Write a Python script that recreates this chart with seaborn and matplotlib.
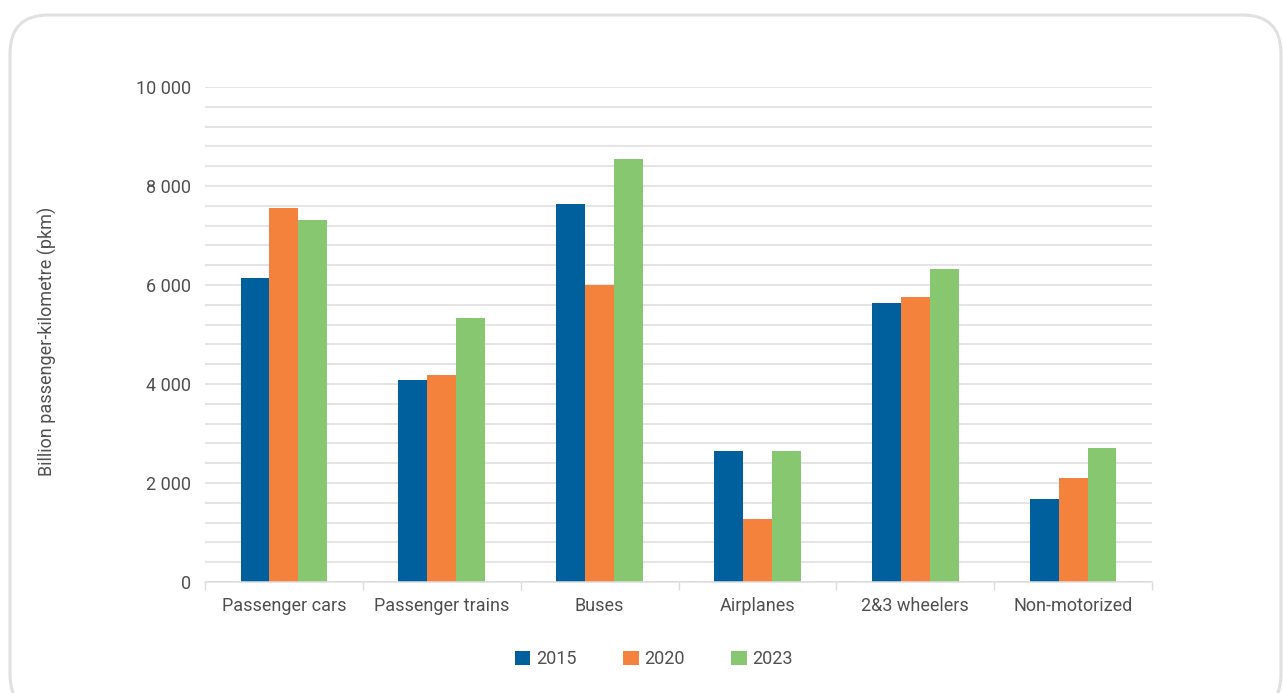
import numpy as np
import pandas as pd
import matplotlib
matplotlib.use("Agg")
import matplotlib.pyplot as plt
import seaborn as sns
from matplotlib.patches import FancyBboxPatch
from matplotlib.ticker import FuncFormatter, MultipleLocator, FixedLocator

categories = ["Passenger cars", "Passenger trains", "Buses", "Airplanes",
              "2&3 wheelers", "Non-motorized"]
years = ["2015", "2020", "2023"]
values_2015 = [6140, 4080, 7640, 2650, 5640, 1680]
values_2020 = [7550, 4180, 6000, 1270, 5760, 2100]
values_2023 = [7310, 5330, 8540, 2650, 6320, 2710]
colors = ["#00609E", "#F4823C", "#87C76F"]

df = pd.DataFrame({
    "category": categories * 3,
    "year": [y for y in years for _ in categories],
    "pkm": values_2015 + values_2020 + values_2023,
})

sns.set_theme(style="white")
plt.rcParams["font.family"] = ["Roboto", "DejaVu Sans"]
text_color = "#505050"
grid_color = "#dcdcdc"

fig = plt.figure(figsize=(12.83, 6.93), dpi=100)
ax = fig.add_axes([0.1598, 0.1602, 0.8979 - 0.1598, 0.8745 - 0.1602])

sns.barplot(data=df, x="category", y="pkm", hue="year", order=categories,
            hue_order=years, palette=colors, width=0.55, saturation=1,
            edgecolor="none", linewidth=0, ax=ax, legend=True)

ax.set_ylim(0, 10000)
ax.set_xlim(-0.5, len(categories) - 0.5)
ax.yaxis.set_major_locator(MultipleLocator(2000))
ax.yaxis.set_minor_locator(MultipleLocator(400))
ax.yaxis.set_major_formatter(FuncFormatter(lambda v, p: f"{int(v):,}".replace(",", " ")))
ax.grid(axis="y", which="both", color=grid_color, linewidth=1.1)
ax.set_axisbelow(True)

ax.xaxis.set_minor_locator(FixedLocator(np.arange(-0.5, len(categories), 1.0)))
ax.tick_params(axis="x", which="major", length=0, pad=10.5, labelsize=13, labelcolor=text_color)
ax.tick_params(axis="x", which="minor", length=6, width=1, color=grid_color, bottom=True)
ax.tick_params(axis="y", which="both", length=0, pad=10, labelsize=13, labelcolor=text_color)

for side in ["top", "right", "left"]:
    ax.spines[side].set_visible(False)
ax.spines["bottom"].set_color(grid_color)
ax.spines["bottom"].set_linewidth(1.1)

ax.set_xlabel("")
ax.set_ylabel("")
fig.text(0.037, 0.508, "Billion passenger-kilometre (pkm)", rotation=90,
         ha="center", va="center", fontsize=13, color=text_color)

handles, labels = ax.get_legend_handles_labels()
ax.get_legend().remove()
fig.legend(handles, labels, loc="center", bbox_to_anchor=(0.5096, 0.049),
           ncol=3, frameon=False, fontsize=13, handlelength=0.85,
           handleheight=0.85, handletextpad=0.3, columnspacing=2.6,
           labelcolor=text_color)

frame = FancyBboxPatch((10 / 1283, -20 / 693), 1271 / 1283, 698 / 693,
                       boxstyle="round,pad=0,rounding_size=0.03",
                       transform=fig.transFigure, facecolor="none",
                       edgecolor="#e0e0e0", linewidth=2.2, clip_on=False,
                       mutation_aspect=1283 / 693)
fig.patches.append(frame)

fig.savefig("out.png", dpi=100, facecolor="white")
